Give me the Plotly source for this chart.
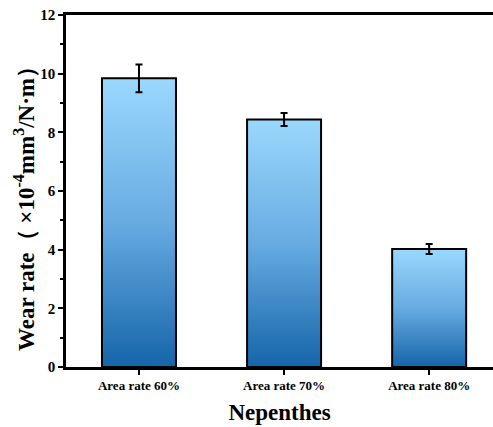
import plotly.graph_objects as go

categories = ["Area rate 60%", "Area rate 70%", "Area rate 80%"]
wear_rate = [9.84, 8.44, 4.02]
wear_err = [0.47, 0.22, 0.17]

BAR_HALF = 0.255
FONT = "Liberation Serif"

fig = go.Figure()
for i, (cat, v) in enumerate(zip(categories, wear_rate)):
    fig.add_trace(go.Scatter(
        x=[i - BAR_HALF, i - BAR_HALF, i + BAR_HALF, i + BAR_HALF, i - BAR_HALF],
        y=[0, v, v, 0, 0],
        mode="lines", fill="toself",
        line=dict(color="black", width=2),
        fillgradient=dict(type="vertical",
                          colorscale=[[0, "#1565a9"], [0.5, "#67abe2"], [1, "#9ad8fd"]]),
        hoverinfo="skip", showlegend=False, name=cat,
    ))

fig.add_trace(go.Scatter(
    x=list(range(len(categories))), y=wear_rate, mode="markers",
    marker=dict(size=1, color="rgba(0,0,0,0)"),
    error_y=dict(type="data", array=wear_err, color="black", thickness=2, width=3.5),
    showlegend=False,
))

fig.update_layout(
    width=493, height=427,
    margin=dict(l=66, r=0, t=15, b=60),
    plot_bgcolor="white", paper_bgcolor="white",
    font=dict(family=FONT, color="black"),
    xaxis=dict(
        range=[-0.503, 2.44], tickvals=list(range(len(categories))), ticktext=categories,
        ticks="outside", ticklen=5, tickwidth=2, tickcolor="black",
        showline=True, linewidth=2.5, linecolor="black", mirror=True,
        showgrid=False, zeroline=False,
        tickfont=dict(family=FONT, size=13, color="black", weight="bold"),
        title=dict(text="<b>Nepenthes</b>", font=dict(family=FONT, size=23, color="black"), standoff=12),
    ),
    yaxis=dict(
        range=[0, 12], tickvals=[0, 2, 4, 6, 8, 10, 12],
        ticks="outside", ticklen=5, tickwidth=2, tickcolor="black",
        minor=dict(tickvals=[1, 3, 5, 7, 9, 11], ticks="outside", ticklen=3, tickwidth=2, tickcolor="black"),
        showline=True, linewidth=2.5, linecolor="black",
        showgrid=False, zeroline=False,
        tickfont=dict(family=FONT, size=15, color="black", weight="bold"),
    ),
    annotations=[dict(
        text="<b>Wear rate（ ×10<sup>-4</sup>mm<sup>3</sup>/N·m）</b>",
        xref="paper", yref="paper", x=-42 / 427, y=(367 - 203) / 352,
        xanchor="center", yanchor="middle", textangle=-90, showarrow=False,
        font=dict(family=FONT, size=23, color="black"),
    )],
)

fig.write_html("out.html")
